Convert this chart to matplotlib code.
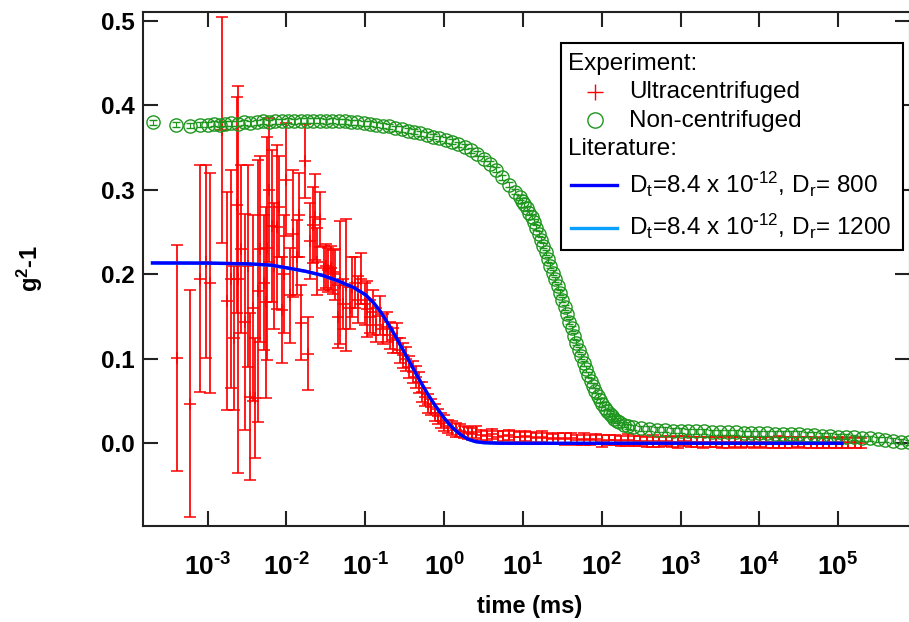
import numpy as np
import matplotlib
matplotlib.use("Agg")
import matplotlib.pyplot as plt
from matplotlib.lines import Line2D
from matplotlib.patches import Rectangle
from matplotlib.ticker import FixedLocator, FuncFormatter, NullLocator, FormatStrFormatter

plt.rcParams['font.family'] = ['Liberation Sans', 'DejaVu Sans']
plt.rcParams['font.weight'] = 'bold'
plt.rcParams['mathtext.fontset'] = 'custom'
plt.rcParams['mathtext.rm'] = 'Liberation Sans'
plt.rcParams['mathtext.it'] = 'Liberation Sans:italic'
plt.rcParams['mathtext.bf'] = 'Liberation Sans:bold'

GREEN = '#1e961e'
RED = '#ff0000'
BLUE = '#0000ff'
SKY = '#0aa0ff'

# ultracentrifuged sample: log10(time / ms), g2-1, error
ultra_logt = [
    -3.39, -3.22, -3.10, -3.02, -2.97, -2.82, -2.75, -2.70, -2.66, -2.63,
    -2.61, -2.58, -2.53, -2.49, -2.46, -2.43, -2.40, -2.36, -2.33, -2.29,
    -2.26, -2.25, -2.22, -2.19, -2.16, -2.12, -2.09, -2.06, -2.03, -2.00,
    -1.96, -1.92, -1.87, -1.84, -1.81, -1.77, -1.73, -1.70, -1.66, -1.64,
    -1.61, -1.575, -1.53, -1.50, -1.47, -1.44, -1.41, -1.38, -1.35, -1.32,
    -1.28, -1.24, -1.20, -1.17, -1.13, -1.09, -1.05, -1.01, -0.98, -0.94,
    -0.90, -0.86, -0.81, -0.77, -0.73, -0.69, -0.65, -0.60, -0.56, -0.52,
    -0.48, -0.44, -0.40, -0.36, -0.32, -0.28, -0.24, -0.20, -0.16, -0.12,
    -0.08, -0.04, 0.00, 0.05, 0.10, 0.15, 0.20, 0.25, 0.30, 0.35,
    0.40, 0.47, 0.54, 0.61, 0.68, 0.75, 0.82, 0.89, 0.96, 1.03,
    1.10, 1.17, 1.24, 1.31, 1.38, 1.45, 1.53, 1.61, 1.69, 1.77,
    1.85, 1.93, 2.01, 2.09, 2.17, 2.25, 2.33, 2.41, 2.49, 2.57,
    2.65, 2.73, 2.81, 2.89, 2.97, 3.05, 3.13, 3.21, 3.29, 3.37,
    3.45, 3.53, 3.61, 3.69, 3.77, 3.85, 3.93, 4.01, 4.09, 4.17,
    4.25, 4.33, 4.41, 4.49, 4.57, 4.65, 4.73, 4.81, 4.89, 4.97,
    5.05, 5.13, 5.21, 5.29,
]
ultra_g = [
    0.101, 0.047, 0.195, 0.215, 0.190, 0.371, 0.168, 0.194, 0.125, 0.282,
    0.194, 0.230, 0.144, 0.210, 0.055, 0.160, 0.054, 0.180, 0.230, 0.190,
    0.167, 0.231, 0.300, 0.257, 0.210, 0.256, 0.280, 0.158, 0.200, 0.312,
    0.175, 0.248, 0.220, 0.270, 0.143, 0.334, 0.106, 0.240, 0.258, 0.268,
    0.215, 0.265, 0.207, 0.210, 0.205, 0.208, 0.203, 0.200, 0.150, 0.190,
    0.165, 0.187, 0.160, 0.185, 0.190, 0.170, 0.195, 0.165, 0.159, 0.150,
    0.155, 0.140, 0.151, 0.135, 0.138, 0.128, 0.122, 0.125, 0.110, 0.104,
    0.100, 0.090, 0.084, 0.079, 0.072, 0.061, 0.055, 0.047, 0.043, 0.036,
    0.032, 0.027, 0.024, 0.020, 0.018, 0.016, 0.015, 0.013, 0.012, 0.011,
    0.013, 0.010, 0.009, 0.011, 0.008, 0.009, 0.010, 0.008, 0.007, 0.009,
    0.007, 0.006, 0.008, 0.006, 0.005, 0.006, 0.005, 0.006, 0.004, 0.005,
    0.004, 0.005, 0.003, 0.004, 0.004, 0.003, 0.004, 0.003, 0.003, 0.002,
    0.003, 0.002, 0.003, 0.002, 0.002, 0.003, 0.002, 0.002, 0.001, 0.002,
    0.002, 0.001, 0.002, 0.002, 0.001, 0.002, 0.001, 0.002, 0.001, 0.001,
    0.002, 0.001, 0.001, 0.002, 0.001, 0.001, 0.000, 0.001, 0.001, 0.000,
    0.001, 0.000, 0.001, 0.000,
]
ultra_err = [
    0.134, 0.134, 0.134, 0.114, 0.130, 0.134, 0.129, 0.129, 0.085, 0.128,
    0.229, 0.100, 0.128, 0.120, 0.099, 0.110, 0.071, 0.155, 0.110, 0.080,
    0.113, 0.132, 0.085, 0.090, 0.075, 0.097, 0.060, 0.063, 0.070, 0.067,
    0.056, 0.075, 0.044, 0.050, 0.044, 0.044, 0.043, 0.045, 0.045, 0.051,
    0.040, 0.033, 0.026, 0.026, 0.026, 0.026, 0.026, 0.030, 0.037, 0.073,
    0.030, 0.078, 0.025, 0.035, 0.030, 0.028, 0.030, 0.025, 0.033, 0.020,
    0.027, 0.020, 0.023, 0.018, 0.018, 0.016, 0.015, 0.018, 0.015, 0.015,
    0.014, 0.013, 0.013, 0.013, 0.012, 0.012, 0.011, 0.011, 0.010, 0.010,
    0.009, 0.009, 0.009, 0.008, 0.008, 0.008, 0.008, 0.007, 0.007, 0.007,
    0.007, 0.006, 0.006, 0.006, 0.006, 0.006, 0.006, 0.006, 0.006, 0.006,
    0.006, 0.006, 0.006, 0.006, 0.006, 0.006, 0.007, 0.006, 0.006, 0.007,
    0.006, 0.006, 0.007, 0.006, 0.006, 0.006, 0.007, 0.006, 0.006, 0.006,
    0.007, 0.006, 0.006, 0.006, 0.007, 0.006, 0.006, 0.006, 0.007, 0.006,
    0.006, 0.006, 0.007, 0.006, 0.006, 0.006, 0.007, 0.006, 0.006, 0.006,
    0.007, 0.006, 0.006, 0.006, 0.007, 0.006, 0.006, 0.006, 0.007, 0.006,
    0.006, 0.006, 0.007, 0.006,
]

# non-centrifuged sample
green_logt = [
    -3.70, -3.40, -3.23, -3.10, -3.00, -2.92, -2.85, -2.78, -2.70, -2.62,
    -2.54, -2.46, -2.38, -2.30, -2.22, -2.14, -2.06, -1.98, -1.90, -1.82,
    -1.74, -1.66, -1.58, -1.50, -1.42, -1.34, -1.26, -1.18, -1.10, -1.02,
    -0.94, -0.86, -0.78, -0.70, -0.62, -0.54, -0.46, -0.38, -0.30, -0.22,
    -0.14, -0.06, 0.02, 0.10, 0.18, 0.26, 0.34, 0.42, 0.50, 0.58,
    0.66, 0.74, 0.82, 0.90, 0.96, 0.99, 1.02, 1.05, 1.08, 1.11,
    1.14, 1.17, 1.20, 1.23, 1.26, 1.29, 1.32, 1.35, 1.38, 1.41,
    1.44, 1.47, 1.50, 1.53, 1.56, 1.59, 1.62, 1.65, 1.68, 1.71,
    1.74, 1.77, 1.80, 1.83, 1.86, 1.89, 1.92, 1.95, 1.98, 2.01,
    2.04, 2.07, 2.10, 2.13, 2.16, 2.19, 2.22, 2.28, 2.34, 2.40,
    2.50, 2.60, 2.70, 2.80, 2.90, 3.00, 3.10, 3.20, 3.30, 3.40,
    3.50, 3.60, 3.70, 3.80, 3.90, 4.00, 4.10, 4.20, 4.30, 4.40,
    4.50, 4.60, 4.70, 4.80, 4.90, 5.00, 5.10, 5.20, 5.30, 5.40,
    5.50, 5.60, 5.70, 5.80, 5.90,
]
green_g = [
    0.380, 0.377, 0.376, 0.377, 0.377, 0.378, 0.377, 0.378, 0.379, 0.378,
    0.380, 0.379, 0.380, 0.381, 0.380, 0.381, 0.381, 0.382, 0.381, 0.382,
    0.382, 0.382, 0.382, 0.381, 0.382, 0.381, 0.381, 0.380, 0.380, 0.379,
    0.378, 0.377, 0.376, 0.375, 0.373, 0.372, 0.370, 0.369, 0.367, 0.365,
    0.363, 0.361, 0.359, 0.357, 0.354, 0.351, 0.347, 0.343, 0.337, 0.331,
    0.324, 0.315, 0.306, 0.298, 0.291, 0.287, 0.283, 0.278, 0.273, 0.268,
    0.262, 0.255, 0.248, 0.241, 0.234, 0.226, 0.218, 0.210, 0.202, 0.194,
    0.186, 0.178, 0.170, 0.161, 0.153, 0.144, 0.136, 0.127, 0.119, 0.111,
    0.103, 0.095, 0.088, 0.081, 0.074, 0.068, 0.062, 0.056, 0.051, 0.046,
    0.042, 0.038, 0.035, 0.032, 0.029, 0.027, 0.025, 0.022, 0.020, 0.019,
    0.018, 0.017, 0.016, 0.016, 0.015, 0.015, 0.014, 0.014, 0.014, 0.013,
    0.013, 0.013, 0.013, 0.012, 0.012, 0.012, 0.012, 0.011, 0.011, 0.011,
    0.011, 0.010, 0.010, 0.009, 0.009, 0.008, 0.008, 0.007, 0.006, 0.006,
    0.005, 0.004, 0.003, 0.002, 0.001,
]
green_err = 0.003

# literature curves
lit_logt = [-3.70, -3.00, -2.50, -2.20, -1.95, -1.75, -1.55, -1.35, -1.15, -1.00,
            -0.90, -0.80, -0.70, -0.60, -0.50, -0.40, -0.30, -0.20, -0.10, 0.00,
            0.10, 0.20, 0.30, 0.40, 0.50, 0.70, 1.00, 5.05]
lit_800 = [0.2135, 0.2133, 0.2125, 0.2110, 0.2070, 0.2035, 0.1990, 0.1925, 0.1845, 0.1760,
           0.1670, 0.1550, 0.1400, 0.1240, 0.1070, 0.0900, 0.0730, 0.0570, 0.0430, 0.0300,
           0.0190, 0.0110, 0.0050, 0.0020, 0.0008, 0.0001, 0.0, 0.0]
lit_1200 = [0.2134, 0.2132, 0.2124, 0.2108, 0.2068, 0.2033, 0.1988, 0.1923, 0.1843, 0.1758,
            0.1668, 0.1548, 0.1398, 0.1238, 0.1068, 0.0898, 0.0729, 0.0569, 0.0429, 0.0299,
            0.0189, 0.0109, 0.0049, 0.0020, 0.0008, 0.0001, 0.0, 0.0]

decades = [-3, -2, -1, 0, 1, 2, 3, 4, 5]
yticks = [0.0, 0.1, 0.2, 0.3, 0.4, 0.5]

W, H = 909, 622
fig = plt.figure(figsize=(W / 100, H / 100), dpi=100)
ax = fig.add_axes([143 / W, 1 - 525.7 / H, 766.5 / W, 513.7 / H])

ax.set_xscale('log')
ax.errorbar(10 ** np.array(ultra_logt), ultra_g, yerr=ultra_err, fmt='+', color=RED,
            ms=8.5, mew=1.1, elinewidth=1.25, capsize=4.3, capthick=1.2, zorder=2)
ax.errorbar(10 ** np.array(green_logt), green_g, yerr=green_err, fmt='o', mfc='none',
            mec=GREEN, ecolor=GREEN, ms=9.5, mew=1.0, elinewidth=0.8, capsize=3,
            capthick=0.8, zorder=3)
ax.plot(10 ** np.array(lit_logt), lit_1200, color=SKY, lw=2.4, zorder=4)
ax.plot(10 ** np.array(lit_logt), lit_800, color=BLUE, lw=2.4, zorder=5)

ax.set_xlim(10 ** -3.821, 10 ** 5.906)
ax.set_ylim(-0.0975, 0.5105)

ax.xaxis.set_major_locator(FixedLocator([10.0 ** d for d in decades]))
ax.xaxis.set_minor_locator(NullLocator())
ax.xaxis.set_major_formatter(FuncFormatter(
    lambda v, p: r'10$^{\mathregular{\text{-}%d}}$' % -round(np.log10(v))
    if v < 1 else r'10$^{\mathregular{%d}}$' % round(np.log10(v))))
ax.yaxis.set_major_locator(FixedLocator(yticks))
ax.yaxis.set_major_formatter(FormatStrFormatter('%.1f'))

for s in ax.spines.values():
    s.set_linewidth(1.5)
    s.set_color('#222222')
ax.tick_params(which='major', direction='in', length=11, width=1.5, color='#222222',
               top=True, right=True)
ax.tick_params(axis='x', pad=20, labelsize=19)
ax.tick_params(axis='y', pad=6, labelsize=17.5)

ax.set_xlabel('time (ms)', fontsize=17, fontweight='bold', va='top')
ax.xaxis.set_label_coords(0.505, -0.135)
ax.set_ylabel(r'g$^{\mathregular{2}}$-1', fontsize=17, fontweight='bold')
ax.yaxis.set_label_coords(-0.128, 0.5)


def fx(px):
    return px / W


def fy(py):
    return 1 - py / H


# legend box
fig.add_artist(Rectangle((fx(561), fy(250)), fx(903) - fx(561), fy(42.7) - fy(250),
                         transform=fig.transFigure, fc='white', ec='black', lw=1.5, zorder=5))
lkw = dict(fontsize=17.5, fontweight='normal', va='baseline', ha='left', zorder=6)
fig.text(fx(567.7), fy(70), 'Experiment:', **lkw)
fig.add_artist(Line2D([fx(595)], [fy(91.7)], marker='+', color=RED, ms=12, mew=1.0,
                      transform=fig.transFigure, zorder=6))
fig.text(fx(629), fy(98.3), 'Ultracentrifuged', **lkw)
fig.add_artist(Line2D([fx(595)], [fy(120)], marker='o', mfc='none', mec=GREEN, ms=11,
                      mew=1.0, transform=fig.transFigure, zorder=6))
fig.text(fx(629), fy(126.7), 'Non-centrifuged', **lkw)
fig.text(fx(567.7), fy(155), 'Literature:', **lkw)
fig.add_artist(Line2D([fx(570.7), fx(617)], [fy(185), fy(185)], color=BLUE, lw=2.4,
                      transform=fig.transFigure, zorder=6))
fig.text(fx(629), fy(193.3),
         r'D$_{\mathregular{t}}$=8.4 x 10$^{\mathregular{\text{-}12}}$, D$_{\mathregular{r}}$= 800',
         **lkw)
fig.add_artist(Line2D([fx(570.7), fx(617)], [fy(228.3), fy(228.3)], color=SKY, lw=2.4,
                      transform=fig.transFigure, zorder=6))
fig.text(fx(629), fy(235),
         r'D$_{\mathregular{t}}$=8.4 x 10$^{\mathregular{\text{-}12}}$, D$_{\mathregular{r}}$= 1200',
         **lkw)

fig.savefig('out.png', dpi=100)
